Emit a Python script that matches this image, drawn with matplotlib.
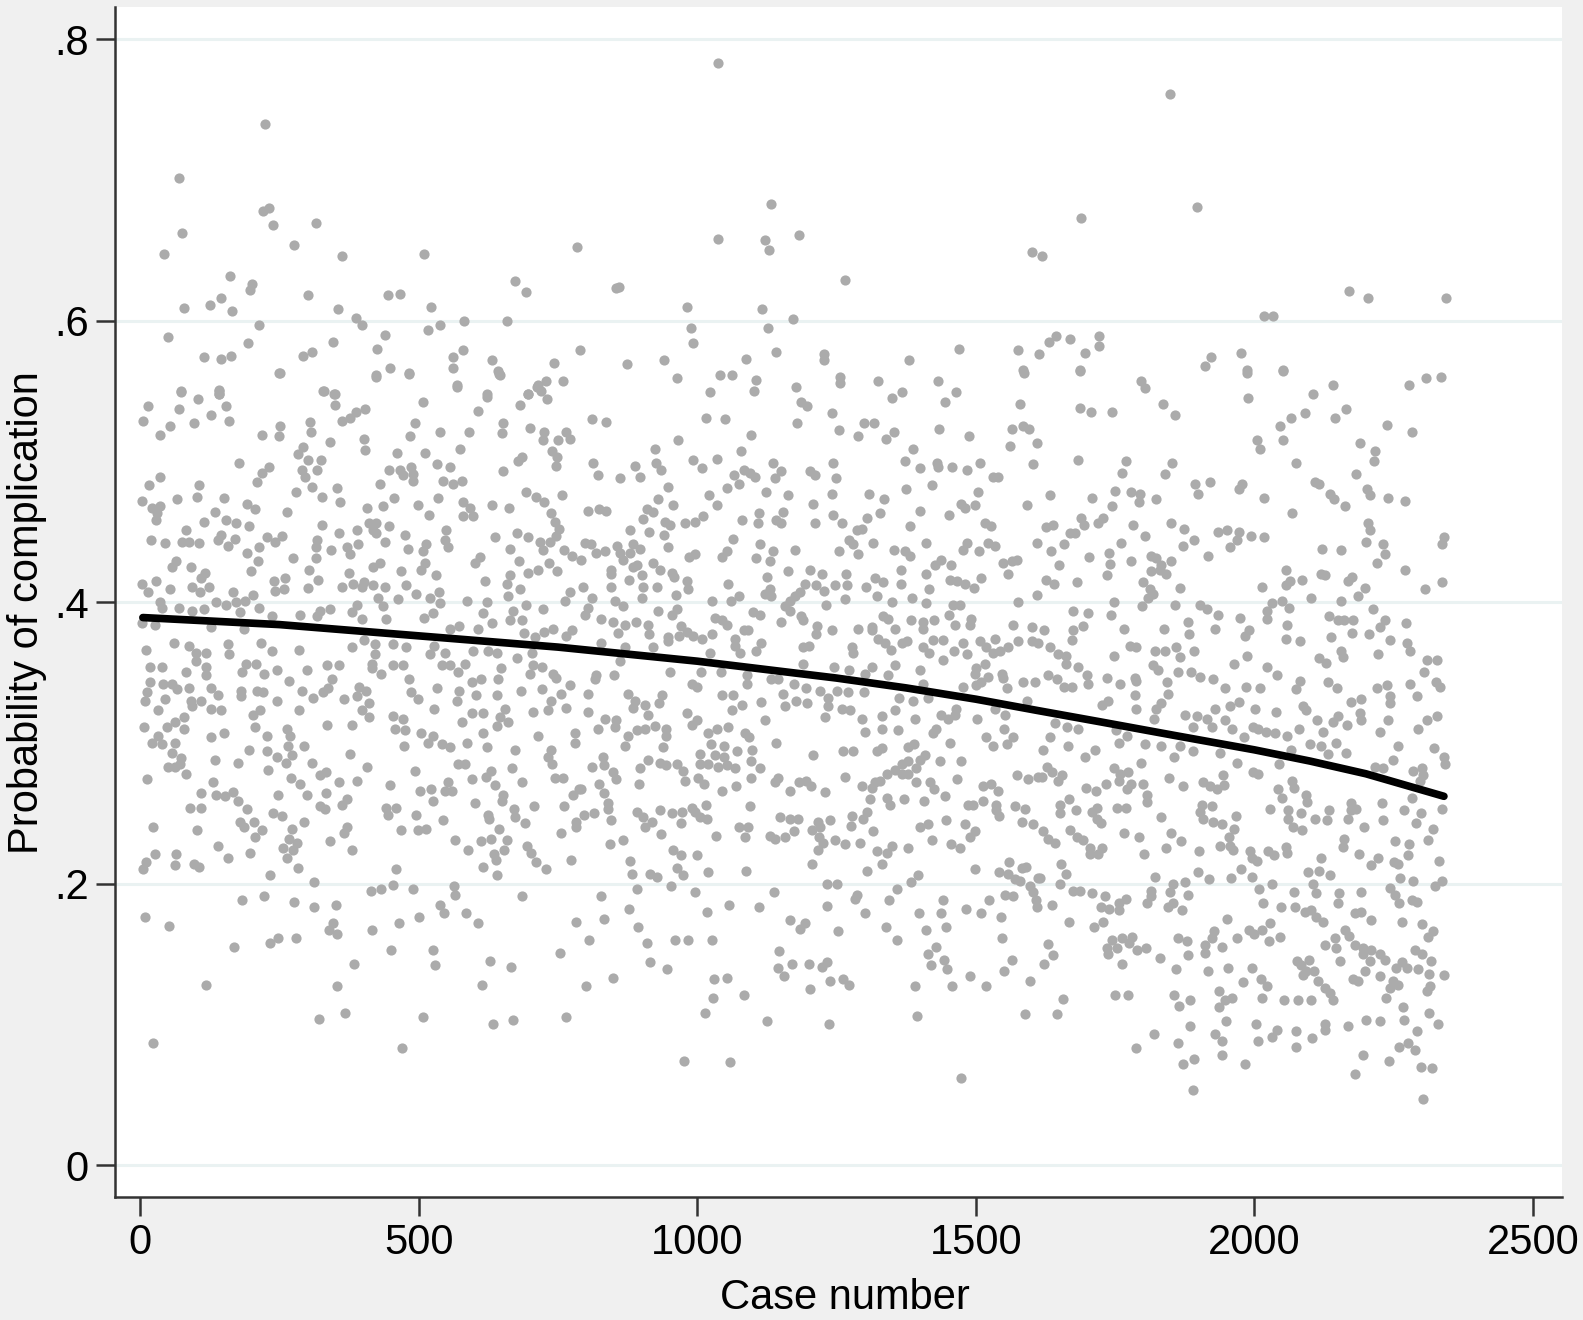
import matplotlib
matplotlib.use('Agg')
import matplotlib.pyplot as plt

# (case number, probability), region by region
top_left = [(225,.740),(69,.701),(232,.680),(220,.678),(76,.662),(238,.668),(316,.669),(277,.654),(43,.647),(362,.646),(509,.647),(784,.652),
(162,.632),(200,.626),(198,.622),(301,.618),(445,.618),(466,.619),(673,.628),(692,.620),(145,.616),(126,.611),(78,.609),(165,.607),
(355,.608),(522,.610),(387,.602),(399,.597),(213,.597),(582,.600),(659,.600),(517,.593),(538,.597),(440,.590),(50,.588),(194,.584),
(347,.585),(425,.580),(562,.574),(580,.579),(790,.579),(115,.574),(146,.573),(164,.575),(292,.575),(308,.578),(632,.572),(743,.570),
(250,.563),(423,.560),(449,.566),(483,.563),(561,.566),(643,.564),(646,.561),(728,.557),(759,.557),(713,.553),(719,.550),(568,.553),
(73,.549),(142,.550),(142,.548),(329,.550),(348,.548),(623,.548),(697,.548)]

top_mid = [(1038,.783),(1132,.683),(1038,.658),(1183,.661),(1121,.657),(1129,.650),(1265,.629),(859,.624),(855,.623),(981,.610),(1117,.608),
(1172,.601),(989,.595),(1127,.595),(992,.584),(1142,.578),(873,.569),(940,.572),(1088,.573),(1227,.576),(1227,.572),(1380,.572),
(1469,.580),(1575,.579),(1613,.576),(1585,.565),(1601,.649)]

top_right = [(1848,.761),(1897,.681),(1689,.673),(1618,.646),(2169,.621),(2203,.616),(2343,.616),(2017,.603),(2034,.603),(1721,.589),(1644,.589),
(1631,.585),(1669,.587),(1721,.582),(1695,.577),(1922,.574),(1912,.568),(1976,.577),(1986,.565),(2052,.565),(1686,.565)]

upper_a = [(251,.563),(73,.550),(141,.551),(142,.548),(14,.539),(104,.544),(70,.537),(154,.539),(127,.533),(5,.529),(160,.529),(97,.527),(36,.519),(54,.525),
(330,.550),(349,.548),(350,.540),(363,.529),(377,.531),(387,.535),(404,.537),(423,.561),(483,.562),(568,.554),(645,.562),(508,.542),(607,.536),(622,.546),
(682,.540),(697,.548),(715,.554),(731,.544),(494,.527),(484,.518),(538,.521),(590,.521),(575,.509),(219,.519),(251,.525),(250,.518),(305,.528),(306,.521),
(341,.514),(402,.516),(404,.508),(293,.510),(284,.505),(461,.506),(511,.506),(652,.527),(650,.520),(700,.524),(725,.521),(723,.515),(765,.521),(771,.516),
(750,.515),(740,.507),(749,.503),(746,.497),(685,.503),(679,.500),(652,.493),(177,.499),(232,.496),(218,.492),(210,.485),(302,.501),(324,.501),(317,.494),
(290,.494),(296,.489),(308,.482),(447,.494),(466,.494),(472,.490),(487,.496),(489,.491),(490,.486),(532,.498),(556,.496),(544,.486),(562,.484),(577,.486),
(430,.484),(35,.489),(16,.483),(106,.483),(280,.478),(354,.481),(102,.475),(326,.475),(66,.473),(4,.472),(151,.474),(192,.470),(206,.466),(359,.471),
(456,.474),(436,.468),(407,.467),(498,.469),(535,.474),(580,.471),(592,.467),(631,.469),(662,.467),(692,.478),(711,.475),(725,.471),(757,.476),
(21,.467),(36,.468),(31,.463),(29,.458),(134,.464),(263,.464),(519,.462),(580,.461),(598,.461),(738,.463),(744,.457),(155,.458),(172,.456),(114,.457),(195,.454),
(326,.455),(410,.456),(424,.456),(447,.454),(418,.451),(752,.452),(747,.447),(82,.451),(357,.449),(389,.451),(549,.451),(475,.448),(677,.449),(637,.446),(697,.446),
(19,.444),(45,.442),(75,.443),(87,.443),(105,.442),(146,.448),(140,.444),(170,.445),(158,.440),(227,.446),(242,.443),(254,.447),(424,.449),(439,.443),
(318,.444),(316,.439),(392,.441),(372,.439),(377,.434),(342,.437),(547,.444),(553,.439),(480,.438),(513,.441),(507,.436),(717,.443),(723,.437),(735,.443),(664,.438),
(761,.437),(776,.433),(214,.439),(191,.435),(275,.431),(315,.431),(610,.432),(601,.428),(64,.429),(57,.425),(91,.425),(211,.429),(199,.422),(680,.429),(697,.421),
(714,.423),(734,.428),(749,.422),(430,.428),(418,.425),(511,.428),(505,.423),(304,.423),(468,.422),(116,.421),(110,.417),(320,.416),(531,.419),(619,.415),(664,.419),
(658,.413),(375,.421),(3,.413),(29,.415),(15,.407),(54,.409),(93,.411),(124,.411),(108,.407),(240,.415),(260,.417),(242,.408),(258,.409),(301,.410),(362,.411),
(383,.413),(398,.411),(418,.412),(401,.414),(439,.411),(478,.412),(496,.406),(537,.407),(682,.409),(771,.407),(167,.407),(202,.405),(463,.402),(520,.403),(539,.399),
(586,.401),(622,.400),(661,.404),(692,.398),(427,.403),(436,.397),(36,.400),(39,.396),(70,.396),(94,.394),(114,.395),(137,.400),(155,.398),(173,.400),(180,.393),
(188,.401),(214,.396),(323,.394),(341,.395),(390,.398),(381,.393),(723,.395),(762,.401),(616,.392),(670,.394),(287,.391),(237,.390),(317,.390),(525,.392),(509,.389),
(398,.388),(441,.388),(664,.387),(686,.387)]

middle_a = [(3,.385),(26,.384),(127,.382),(186,.381),(572,.383),(556,.381),(607,.381),(632,.385),(689,.378),(725,.379),(741,.381),(775,.380),(765,.376),(709,.375),
(61,.371),(88,.369),(157,.370),(217,.371),(11,.366),(236,.365),(286,.366),(119,.364),(160,.363),(100,.364),(100,.358),(381,.368),(401,.373),(421,.370),(421,.363),
(454,.370),(477,.368),(520,.363),(527,.369),(547,.364),(598,.365),(625,.365),(641,.364),(704,.364),(677,.360),(18,.354),(40,.354),(190,.356),(208,.356),(183,.350),
(118,.354),(118,.348),(82,.350),(223,.349),(246,.352),(335,.355),(357,.355),(300,.352),(416,.356),(416,.353),(432,.349),(454,.355),(472,.355),(541,.355),(556,.355),
(583,.356),(571,.350),(648,.353),(706,.355),(721,.354),(700,.349),(741,.349),(747,.346),(17,.343),(42,.342),(57,.342),(67,.338),(12,.336),(9,.330),(88,.339),(127,.339),
(140,.334),(182,.337),(182,.333),(210,.337),(221,.336),(267,.344),(291,.337),(310,.332),(344,.345),(338,.339),(329,.336),(393,.340),(405,.337),(389,.333),(483,.345),
(487,.336),(498,.331),(532,.339),(573,.337),(569,.330),(595,.343),(611,.345),(603,.334),(643,.345),(640,.334),(683,.337),(722,.338),(771,.341),(756,.335),(45,.331),
(32,.323),(91,.330),(110,.330),(94,.326),(245,.330),(366,.331),(410,.328),(128,.324),(146,.323),(285,.323),(398,.323),(411,.318),(527,.324),(737,.330),(765,.325),
(732,.323),(705,.322),(595,.321),(616,.321),(655,.324),(646,.318),(203,.320),(216,.323),(63,.315),(78,.318),(454,.319),(472,.317),(577,.315),(661,.315),(7,.311),
(48,.311),(78,.310),(206,.311),(335,.313),(380,.313),(263,.310),(457,.310),(475,.309),(151,.307),(127,.304),(33,.305),(227,.305),(269,.305),(505,.307),(526,.305),
(615,.307),(641,.312),(714,.305),(780,.307)]

lower_a = [(21,.300),(39,.299),(63,.300),(58,.293),(73,.289),(51,.283),(63,.283),(72,.285),(134,.288),(175,.286),(196,.295),(228,.294),(245,.290),(262,.286),(272,.291),
(266,.298),(294,.298),(229,.281),(309,.286),(377,.292),(408,.283),(474,.298),(517,.300),(541,.299),(556,.297),(586,.300),(622,.297),(673,.295),(738,.295),(732,.290),
(740,.285),(780,.300),(82,.278),(13,.274),(130,.272),(270,.275),(287,.271),(323,.277),(334,.279),(357,.272),(390,.273),(493,.280),(571,.285),(584,.285),(668,.282),
(629,.280),(621,.276),(595,.274),(637,.270),(685,.272),(744,.275),(759,.275),(448,.270),(553,.272),(109,.264),(137,.263),(152,.262),(166,.265),(176,.259),(247,.263),
(299,.263),(333,.264),(371,.260),(363,.256),(502,.266),(522,.267),(547,.266),(559,.266),(525,.259),(601,.257),(652,.263),(649,.259),(777,.263),(788,.267),(90,.254),
(109,.254),(191,.253),(323,.255),(332,.253),(442,.254),(459,.254),(445,.249),(495,.249),(707,.255),(761,.255),(671,.253),(673,.247),(625,.249),(627,.246),(239,.250),
(255,.248),(205,.244),(179,.244),(186,.240),(294,.244),(543,.245),(691,.243),(24,.240),(102,.238),(272,.239),(219,.238),(371,.240),(366,.236),(469,.238),(499,.238),
(513,.239),(645,.239),(782,.244),(783,.240),(756,.236),(206,.233),(268,.232),(281,.229),(341,.230),(565,.231),(611,.230),(629,.232),(658,.231),(139,.227),(275,.224),
(256,.225),(381,.224),(589,.224),(653,.224),(695,.227),(701,.222),(27,.221),(64,.221),(198,.222),(635,.221),(639,.217),(157,.218),(263,.218),(710,.215),(774,.217),
(10,.215),(63,.213),(5,.210),(96,.214),(106,.212),(283,.211),(460,.210),(616,.212),(729,.210),(233,.206),(640,.206),(313,.201),(414,.195),(433,.196),(454,.199),
(490,.196),(563,.198),(566,.192),(183,.188),(223,.191),(276,.187),(312,.183),(351,.185),(686,.191),(8,.176),(52,.170),(538,.185),(545,.179),(585,.179),(501,.176),
(606,.172),(465,.172),(346,.172),(339,.167),(354,.164),(417,.167),(783,.173),(248,.161),(234,.158),(279,.161),(169,.155),(450,.153),(526,.153),(753,.151),(384,.143),
(529,.142),(628,.145),(666,.141),(119,.128),(353,.127),(613,.128),(321,.104),(368,.108),(507,.105),(634,.100),(670,.103),(765,.105),(23,.087),(470,.083)]

upper_b = [(963,.559),(1041,.561),(1062,.561),(1105,.558),(1101,.550),(1023,.549),(1256,.560),(1257,.556),(1325,.557),(1432,.557),(1464,.549),(1368,.549),(1349,.545),
(1445,.542),(1177,.553),(1187,.542),(1197,.539),(1241,.534),(1579,.541),(1586,.563),(811,.530),(837,.528),(1015,.531),(1050,.530),(1179,.527),(1255,.522),(1289,.518),
(1299,.527),(1318,.527),(1338,.516),(1353,.521),(1434,.523),(1488,.518),(1565,.523),(1584,.525),(1596,.523),(1609,.513),(1562,.511),(1097,.519),(966,.515),(925,.509),
(1078,.507),(1387,.509),(993,.501),(1035,.502),(1136,.499),(1244,.499),(1373,.500),(1431,.499),(1432,.496),(1508,.499),(1603,.498),(813,.499),(888,.497),(926,.499),
(935,.494),(1008,.495),(1399,.495),(1458,.496),(1484,.494),(821,.490),(861,.488),(897,.489),(1083,.494),(1066,.490),(1094,.492),(1103,.489),(1075,.484),(1151,.493),
(1140,.488),(1202,.493),(1211,.490),(1249,.488),(1531,.489),(1540,.489),(948,.482),(1053,.481),(1421,.483),(1374,.480),(1021,.476),(1123,.478),(1163,.476),(1242,.477),
(1308,.477),(1504,.478),(930,.473),(1335,.473),(1474,.470),(1499,.469),(1480,.467),(1208,.470),(957,.469),(1036,.469),(1591,.469),(803,.465),(824,.466),(837,.465),
(909,.466),(920,.464),(1154,.464),(1111,.463),(1243,.462),(1328,.463),(1399,.465),(1451,.462),(903,.459),(1081,.458),(996,.457),(1011,.461),(978,.456),(942,.457),
(951,.455),(1109,.456),(1142,.458),(1150,.456),(1212,.456),(1259,.456),(1304,.460),(1516,.456),(1528,.454),(1382,.454),(879,.451),(914,.450),(940,.448),(1286,.451),
(1295,.452),(1065,.445),(947,.439),(1273,.444),(1280,.441),(1316,.442),(1410,.442),(1609,.442),(1289,.434),(798,.442),(810,.441),(818,.435),(834,.436),(856,.440),
(861,.435),(884,.441),(897,.438),(880,.435),(792,.430),(1484,.442),(1476,.437),(1505,.436),(1522,.442),(1534,.440),(1112,.441),(1106,.431),(1136,.436),(1130,.429),
(1175,.437),(1255,.436),(1353,.437),(1373,.436),(1382,.433),(996,.434),(986,.432),(1053,.436),(1045,.432),(1438,.430),(1426,.426),(1456,.426),(1549,.428),(1564,.429),
(1574,.430),(1558,.420),(867,.430),(891,.426),(921,.428),(933,.423),(885,.425),(846,.423),(845,.420),(900,.419),(954,.421),(959,.418),(1163,.422),(1202,.423),(1223,.420),
(1267,.420),(1365,.423),(1410,.420),(1126,.418),(878,.416),(981,.415),(1319,.417),(1334,.414),(1453,.416),(1466,.415),(1480,.413),(1496,.410),(1509,.417),(1056,.413),
(1194,.413),(1213,.412),(1247,.412),(1268,.412),(1365,.413),(1303,.411),(795,.411),(846,.411),(902,.411),(927,.411),(984,.409),(1227,.408),(1416,.409),(1184,.407),
(1130,.409),(1121,.406),(1133,.404),(1074,.404),(962,.405),(1322,.404),(1386,.403),(901,.403),(811,.403),(1610,.405),(1265,.402),(1027,.401),(1060,.401),(852,.401),
(1175,.404),(1166,.401),(1349,.400),(1411,.399),(1459,.398),(1472,.398),(1576,.400),(1231,.398),(866,.397),(1157,.397),(1166,.394),(804,.396),(798,.391)]

middle_b = [(929,.394),(963,.395),(955,.391),(1100,.393),(1112,.391),(1451,.391),(1187,.390),(1334,.390),(1343,.388),(827,.388),(848,.386),(890,.386),(1031,.389),(1044,.387),
(1053,.384),(1190,.387),(1151,.386),(1383,.387),(1405,.386),(1425,.387),(1492,.388),(1489,.384),(1463,.384),(1405,.381),(1567,.384),(1600,.382),(912,.384),(870,.384),
(858,.378),(913,.377),(1083,.380),(1091,.380),(970,.383),(1242,.380),(1215,.383),(1213,.377),(1288,.381),(1314,.382),(1313,.380),(1355,.381),(1027,.377),(981,.379),
(993,.376),(1008,.374),(967,.376),(948,.375),(948,.372),(1325,.374),(1337,.371),(1347,.366),(1367,.371),(1376,.372),(1405,.368),(1416,.364),(1423,.373),(1441,.373),
(1477,.371),(1460,.365),(1441,.359),(1507,.372),(1484,.363),(1534,.374),(1519,.368),(1531,.364),(1543,.365),(1558,.368),(1576,.372),(1600,.372),(1612,.371),(828,.371),
(870,.368),(921,.368),(861,.358),(1068,.374),(1068,.369),(1077,.364),(1115,.371),(1106,.365),(1023,.364),(1190,.368),(1201,.369),(1277,.368),(1280,.364),(1189,.356),
(1246,.354),(1273,.352),(1313,.354),(1301,.349),(1355,.355),(1399,.352),(1343,.348),(1516,.356),(1501,.353),(1498,.349),(1522,.347),(1510,.343),(1546,.349),(1549,.346),
(951,.350),(1006,.350),(1042,.350),(1089,.348),(819,.348),(816,.345),(850,.348),(990,.342),(999,.340),(1089,.342),(1132,.345),(1145,.345),(1174,.342),(1196,.339),
(1220,.337),(1250,.337),(1270,.336),(1300,.336),(1405,.342),(1477,.340),(1501,.341),(1555,.339),(1585,.343),(1606,.343),(803,.335),(876,.335),(1044,.334),(1065,.334),
(1153,.335),(936,.334),(1414,.332),(1591,.330),(888,.330),(931,.328),(906,.327),(1114,.329),(1178,.330),(1197,.328),(1235,.332),(1362,.332),(1388,.330),(1081,.327),
(1157,.326),(1235,.326),(884,.325),(1062,.323),(1259,.324),(1274,.323),(1355,.323),(1465,.324),(1534,.324),(804,.322),(982,.321),(912,.320),(1437,.320),(1462,.320),
(1552,.320),(834,.317),(854,.316),(1229,.318),(1295,.317),(1332,.319),(1390,.317),(1502,.317),(1450,.317),(1121,.316),(1000,.316),(990,.313),(822,.310),(852,.311),
(924,.312),(906,.310),(891,.309),(944,.310),(944,.305),(1056,.311),(1035,.310),(1020,.307),(876,.305),(1086,.307),(1092,.304),(1301,.308),(1331,.310),(1361,.309),
(1429,.310),(1423,.307),(1550,.310),(1567,.304),(1519,.304)]

lower_b = [(871,.298),(939,.297),(1025,.299),(1048,.298),(1099,.295),(1072,.294),(1142,.300),(831,.290),(833,.284),(811,.283),(848,.279),(855,.274),(911,.288),(898,.282),
(933,.286),(944,.284),(963,.285),(974,.280),(1004,.292),(1005,.285),(1020,.285),(1032,.291),(1038,.283),(1048,.290),(1053,.284),(1068,.282),(1097,.287),(1112,.282),
(1096,.275),(1208,.291),(1261,.294),(1280,.294),(1322,.294),(1331,.296),(1378,.297),(1389,.299),(1454,.300),(1531,.298),(1555,.299),(896,.271),(978,.273),(1002,.275),
(1012,.271),(824,.271),(833,.264),(792,.267),(1045,.266),(1069,.269),(1145,.275),(1139,.272),(1167,.266),(1182,.272),(1196,.273),(1204,.269),(1229,.265),(1265,.276),
(1295,.269),(1313,.268),(1319,.272),(1328,.273),(1340,.278),(1355,.281),(1367,.285),(1378,.287),(1367,.278),(1378,.278),(1392,.282),(1399,.288),(1408,.291),(1393,.272),
(1435,.287),(1473,.287),(1466,.274),(1417,.272),(1425,.267),(1444,.262),(1513,.269),(1527,.271),(1540,.266),(1573,.277),(1594,.274),(1612,.276),(1310,.260),(1340,.261),
(1346,.256),(1371,.260),(1407,.259),(839,.257),(840,.253),(1094,.255),(1486,.256),(1495,.256),(1512,.259),(1536,.256),(1537,.252),(1542,.248),(1571,.255),(1588,.253),
(797,.249),(815,.250),(845,.245),(892,.251),(903,.247),(918,.244),(907,.240),(933,.252),(955,.250),(973,.251),(970,.243),(990,.254),(996,.251),(1016,.256),(1005,.247),
(1017,.246),(1148,.247),(1166,.246),(1181,.246),(1173,.237),(1158,.233),(1217,.244),(1206,.238),(1220,.240),(1239,.245),(1277,.248),(1275,.241),(1298,.246),(1305,.251),
(1316,.237),(1074,.240),(1091,.240),(1086,.233),(1033,.234),(935,.235),(1130,.234),(1139,.232),(1219,.233),(1225,.229),(1216,.224),(1247,.231),(1265,.228),(1292,.229),
(1399,.240),(1414,.242),(1447,.245),(1481,.242),(1498,.237),(1490,.233),(1422,.231),(1456,.228),(1471,.225),(1582,.244),(1603,.242),(867,.231),(843,.228),(957,.224),
(970,.220),(1000,.220),(1322,.223),(1341,.222),(1350,.227),(1379,.225),(880,.216),(883,.207),(916,.207),(928,.205),(964,.211),(974,.206),(1020,.208),(1087,.209),(1206,.214),
(1331,.214),(1304,.209),(1499,.210),(1541,.208),(1560,.215),(1558,.207),(1570,.203),(1579,.202),(1582,.211),(1590,.212),(1612,.204),(1396,.206),(1383,.201),(1232,.200),
(1251,.200),(891,.196),(952,.198),(996,.194),(1138,.194),(1358,.196),(1597,.198),(1602,.194),(828,.191),(1286,.192),(1283,.189),(1344,.188),(1441,.188),(1552,.192),
(1567,.191),(1608,.188),(1609,.183),(1057,.185),(1110,.183),(1233,.184),(1524,.188),(1483,.182),(1510,.179),(878,.182),(1017,.180),(1301,.179),(1398,.179),(1438,.179),
(1545,.176),(833,.175),(1166,.174),(1193,.172),(1185,.168),(894,.169),(1338,.169),(1411,.167),(1447,.169),(1252,.166),(806,.160),(960,.160),(984,.160),(1026,.160),(909,.158),
(1358,.160),(1546,.161),(1428,.155),(1414,.150),(1147,.152),(1564,.146),(1443,.146),(1419,.142),(1449,.139),(916,.144),(946,.139),(1144,.140),(1170,.143),(1200,.143),
(1223,.141),(1232,.144),(1156,.134),(1550,.138),(849,.133),(1030,.132),(1054,.133),(1239,.131),(1262,.132),(1272,.128),(1490,.134),(1598,.131),(800,.127),(1203,.125),
(1390,.127),(1457,.127),(1519,.127),(1084,.121),(1029,.119),(1013,.108),(1394,.106),(1588,.107),(1126,.102),(1237,.100),(976,.074),(1059,.073),(1474,.062)]

upper_c = [(1686,.564),(1797,.557),(1803,.552),(1986,.563),(2052,.564),(2277,.554),(2307,.559),(2334,.560),(2141,.554),(2105,.548),(1988,.545),(1836,.541),(1857,.533),(1686,.538),
(1706,.535),(1745,.535),(2065,.531),(2091,.534),(2046,.525),(2144,.531),(2165,.537),(2238,.526),(2283,.521),(2004,.515),(2010,.509),(2052,.515),(2189,.513),(2216,.507),
(2215,.500),(1683,.501),(1770,.500),(1763,.492),(1852,.499),(1840,.491),(2074,.499),(2182,.491),(1894,.484),(1899,.477),(1921,.485),(1977,.484),(1972,.480),(2017,.474),
(2108,.485),(2116,.484),(2135,.477),(2142,.473),(2162,.468),(2202,.480),(2207,.476),(2240,.474),(2271,.472),(1633,.476),(1709,.474),(1750,.479),(1779,.478),(1794,.477),
(1793,.471),(1824,.473),(1744,.468),(2068,.463),(1688,.460),(1694,.455),(1720,.456),(1729,.460),(1626,.453),(1639,.455),(1782,.455),(1851,.456),(1873,.452),(2204,.456),
(2207,.451),(1669,.449),(1678,.449),(1804,.447),(1934,.450),(1951,.451),(1972,.450),(1993,.447),(2017,.446),(1968,.444),(2340,.446),(2337,.441),(1891,.444),(1872,.440),
(1956,.439),(2201,.443),(2231,.441),(2235,.434),(1659,.441),(1634,.436),(1760,.442),(1739,.435),(2121,.438),(2156,.437),(1703,.432),(1916,.433),(1815,.433),(1824,.431),
(1851,.429),(1778,.429),(1741,.427),(1649,.426),(2220,.428),(2056,.423),(2271,.423),(1833,.426),(1815,.422),(1830,.423),(1842,.420),(1735,.419),(2120,.420),(2126,.419),
(2175,.418),(2168,.415),(2086,.416),(2064,.415),(2056,.412),(2337,.414),(1626,.416),(1640,.413),(1681,.414),(1800,.414),(2013,.411),(1867,.410),(2198,.410),(2306,.409),
(1812,.409),(1818,.406),(1809,.403),(2102,.403),(2186,.404),(1748,.400),(2155,.401),(2049,.401),(2032,.399),(1799,.397),(1858,.398),(1903,.398),(1914,.395),(2062,.396),
(2213,.395),(1674,.394),(1702,.392),(1742,.391),(1935,.391),(2022,.394),(2023,.388),(1974,.389),(2134,.390),(2150,.387),(2160,.387),(2177,.387),(2234,.387)]

middle_c = [(1881,.386),(2059,.384),(2272,.385),(1692,.383),(1766,.381),(1837,.381),(1929,.381),(1622,.380),(1991,.380),(2226,.382),(1675,.380),(1882,.377),(1983,.376),(2175,.378),
(2205,.377),(1673,.373),(2138,.375),(2056,.374),(2081,.372),(2244,.373),(2273,.371),(1776,.369),(1788,.368),(1633,.368),(1859,.368),(1822,.365),(1839,.365),(1892,.365),
(2279,.365),(1648,.363),(1662,.362),(1662,.356),(1747,.362),(1866,.361),(1987,.362),(2156,.365),(2158,.361),(2116,.360),(2129,.357),(2221,.363),(2309,.359),(2327,.359),
(1684,.354),(1818,.355),(1827,.352),(1964,.356),(2022,.354),(2304,.350),(1630,.348),(1645,.345),(1658,.340),(1673,.340),(1699,.348),(1702,.342),(1736,.346),(1759,.342),
(1785,.346),(1788,.344),(1843,.343),(1862,.350),(1886,.350),(1903,.347),(1925,.345),(2040,.348),(2081,.344),(2074,.338),(2132,.343),(2148,.339),(2219,.339),(2237,.341),
(2279,.342),(2325,.343),(2333,.340),(1947,.339),(1984,.340),(2010,.339),(1845,.335),(1785,.334),(2243,.333),(2291,.333),(1738,.330),(1726,.327),(1788,.324),(1833,.328),
(1824,.324),(1820,.317),(2174,.329),(2192,.331),(2244,.328),(1973,.329),(1956,.326),(1930,.324),(2001,.324),(2038,.322),(2087,.326),(2093,.323),(2189,.321),(1875,.320),
(1896,.319),(1915,.317),(1947,.316),(2113,.316),(2150,.319),(2141,.315),(2191,.316),(2239,.316),(2328,.319),(2309,.316),(2294,.310),(1642,.314),(1663,.311),(1684,.310),
(1889,.311),(1924,.311),(1960,.310),(1998,.311),(2007,.310),(2020,.308),(2037,.307),(2080,.310),(2123,.308),(2166,.313),(2225,.308),(2058,.305),(1981,.304),(1633,.304),
(1751,.309),(1772,.305)]

lower_c = [(1621,.295),(1666,.298),(1696,.290),(1714,.295),(1756,.300),(1803,.299),(1833,.298),(1866,.298),(1856,.290),(1890,.294),(1938,.293),(1969,.286),(2066,.295),(2099,.299),
(2120,.298),(2132,.292),(2146,.300),(2164,.293),(2044,.285),(2258,.298),(2322,.296),(2340,.290),(2342,.285),(2248,.288),(2231,.282),(2216,.283),(1796,.286),(1748,.282),
(1759,.278),(1773,.279),(1998,.279),(2007,.278),(1627,.283),(1636,.279),(1618,.276),(1654,.277),(1648,.273),(1847,.275),(1757,.273),(1778,.271),(1772,.267),(1733,.271),
(1715,.266),(1698,.268),(1800,.271),(1872,.269),(1908,.272),(1920,.269),(1932,.267),(1945,.270),(1944,.277),(2285,.280),(2301,.282),(2303,.277),(2297,.273),(2043,.267),
(2049,.261),(2068,.273),(2071,.268),(2093,.263),(2095,.258),(1667,.260),(1651,.256),(1651,.250),(1680,.252),(1808,.263),(1808,.258),(2283,.261),(2228,.257),(2174,.257),
(2183,.253),(2168,.246),(2174,.252),(1718,.254),(1708,.251),(1717,.246),(1724,.243),(1753,.254),(1769,.254),(1905,.256),(1923,.255),(1902,.251),(1908,.246),(1926,.244),
(1942,.242),(1966,.248),(2028,.253),(2060,.252),(2060,.246),(2084,.250),(2108,.246),(2133,.252),(2130,.245),(2268,.252),(2298,.250),(2337,.253),(2230,.245),(1832,.247),
(2069,.240),(2086,.238),(2197,.240),(2290,.243),(2321,.239),(1621,.237),(1669,.238),(1681,.233),(1693,.231),(1630,.232),(1642,.229),(1765,.236),(1793,.233),(1850,.236),
(1869,.230),(1842,.225),(1963,.239),(1955,.233),(1938,.227),(1956,.227),(1961,.224),(2160,.232),(2158,.226),(2252,.230),(2312,.231),(2278,.228),(2276,.220),(1705,.225),
(1705,.221),(1726,.225),(1720,.221),(1802,.221),(1900,.223),(1992,.223),(2025,.223),(2035,.220),(2056,.226),(2058,.222),(2188,.221),(2119,.218),(2222,.218),(2004,.216),
(1995,.218),(1653,.214),(1661,.207),(2331,.216),(2250,.215),(2258,.214),(2210,.213),(1899,.208),(1919,.203),(1957,.204),(1975,.210),(1996,.205),(1821,.205),(2096,.208),
(2116,.209),(2136,.206),(1615,.204),(1651,.200),(1875,.201),(1854,.200),(2031,.200),(2105,.200),(2262,.204),(2285,.202),(2336,.202),(2324,.198),(2008,.196),(1848,.194),
(1814,.195),(1675,.195),(1687,.195),(1708,.193),(2111,.193),(2071,.194),(2152,.193),(2192,.194),(2243,.197),(2252,.192),(1732,.191),(1815,.191),(1881,.192),(1769,.189),
(1808,.186),(1637,.185),(1757,.186),(2260,.186),(2282,.188),(2292,.187),(2016,.186),(2150,.186),(1724,.183),(1739,.182),(1756,.181),(1854,.186),(1844,.183),(1870,.181),
(2047,.183),(2072,.183),(2090,.180),(2101,.181),(2111,.176),(2123,.173),(2180,.179),(2192,.180),(2209,.174),(1951,.175),(1667,.173),(1729,.173),(1712,.169),(2028,.172),
(2265,.173),(2300,.171),(1991,.167),(2000,.164),(2014,.167),(1927,.166),(2163,.167),(2170,.163),(2321,.166),(2312,.162),(1744,.160),(1763,.161),(1781,.162),(1775,.158),
(1968,.161),(1863,.161),(1923,.161),(2046,.162),(2026,.159),(2144,.161),(1630,.157),(1878,.159),(2127,.156),(2147,.154),(2181,.156),(1911,.156),(1911,.151),(1941,.155),
(1805,.154),(1790,.153),(1754,.154),(1736,.154),(1738,.150),(1638,.149),(2195,.154),(2210,.153),(2194,.150),(2225,.150),(2234,.146),(2288,.153),(2300,.150),(1880,.149),
(1831,.147),(2077,.145),(2098,.146),(2207,.145),(2153,.145),(2316,.145),(1623,.143),(1762,.143),(2084,.142),(2093,.138),(2107,.138),(2087,.135),(2264,.144),(2254,.140),
(2273,.140),(2199,.138),(2293,.139),(1860,.139),(1917,.138),(1953,.140),(1995,.140),(2313,.136),(2340,.135),(2225,.134),(1979,.130),(2011,.132),(2023,.127),(2114,.131),
(2177,.132),(2186,.131),(2249,.131),(2258,.128),(2243,.126),(2127,.126),(2135,.122),(2141,.117),(2315,.127),(2310,.124),(1937,.124),(1750,.121),(1773,.121),(1855,.121),
(1960,.119),(1947,.117),(1936,.112),(2014,.119),(2053,.117),(2078,.117),(2102,.117),(2236,.119),(1657,.118),(1885,.117),(1865,.113),(2266,.112),(2268,.103),(2313,.108),
(1646,.107),(1949,.102),(2002,.100),(2200,.103),(2226,.102),(2330,.100),(1884,.099),(2167,.099),(2126,.100),(2126,.096),(1929,.093),(1941,.088),(2041,.096),(2032,.091),
(2075,.095),(2291,.095),(1819,.093),(2006,.088),(2104,.090),(1863,.087),(2074,.084),(2276,.087),(2260,.084),(2288,.082),(1787,.083),(1941,.078),(2195,.078),(1891,.075),
(1871,.072),(1983,.072),(2241,.074),(2298,.070),(2318,.069),(2180,.065),(1890,.053),(2302,.047)]

fit_case = [5, 250, 500, 750, 1000, 1125, 1250, 1375, 1500, 1610, 1722, 1860, 2000, 2100, 2200, 2270, 2340]
fit_prob = [.389, .384, .376, .368, .358, .352, .346, .339, .331, .323, .315, .305, .295, .287, .278, .270, .262]

y_ticks = [0, .2, .4, .6, .8]
y_labels = ['0', '.2', '.4', '.6', '.8']
x_ticks = [0, 500, 1000, 1500, 2000, 2500]

regions = [top_left, top_mid, top_right, upper_a, middle_a, lower_a, upper_b, middle_b, lower_b, upper_c, middle_c, lower_c]
points = [p for r in regions for p in r]

plt.rcParams['font.family'] = ['Liberation Sans', 'DejaVu Sans']
W, H = 1583, 1320
fig = plt.figure(figsize=(W / 100, H / 100), dpi=100, facecolor='#f0f0f0')
ax = fig.add_axes([115 / W, (H - 1197) / H, 1446.5 / W, 1190 / H], facecolor='white')

ax.scatter([p[0] for p in points], [p[1] for p in points], s=54, color='#ababab', linewidths=0, zorder=2)
ax.plot(fit_case, fit_prob, color='black', lw=5.5, solid_capstyle='round', solid_joinstyle='round', zorder=3)

ax.set_xlim(-45, 2551)
ax.set_ylim(-.0227, .8228)
ax.set_xticks(x_ticks)
ax.set_yticks(y_ticks, y_labels)
ax.grid(axis='y', color='#eaf2f2', lw=2.2, zorder=1)
ax.set_axisbelow(True)
ax.tick_params(length=14, width=1.8, color='#333333', labelsize=30)
ax.tick_params(axis='x', pad=4.5)
ax.tick_params(axis='y', pad=5)
ax.spines['top'].set_visible(False)
ax.spines['right'].set_visible(False)
ax.spines['left'].set_linewidth(1.8)
ax.spines['bottom'].set_linewidth(1.8)
ax.spines['left'].set_color('#333333')
ax.spines['bottom'].set_color('#333333')
ax.set_xlabel('Case number', fontsize=30, labelpad=11, x=.5047)
ax.set_ylabel('Probability of complication', fontsize=30, labelpad=5, y=.4908)

fig.savefig('out.png', dpi=100, facecolor=fig.get_facecolor())
